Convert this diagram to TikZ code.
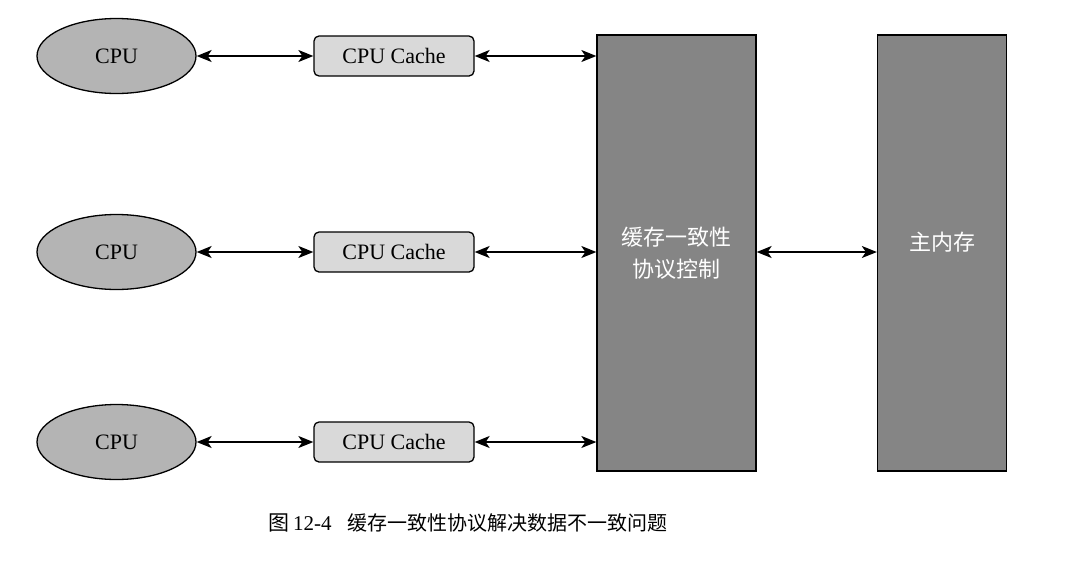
\documentclass[tikz,border=0pt]{standalone}
\usepackage{fontspec}
\setmainfont{Liberation Serif}
\newfontfamily\cjk{Noto Sans CJK SC}
\usetikzlibrary{arrows.meta,shapes.geometric}
\definecolor{cpufill}{HTML}{B4B4B4}
\definecolor{cachefill}{HTML}{D9D9D9}
\definecolor{bigfill}{HTML}{858585}
\tikzset{
  cpu/.style={ellipse,draw=black,line width=1.3pt,fill=cpufill,minimum width=159pt,minimum height=75pt,inner sep=0pt,font=\fontsize{22}{26}\selectfont},
  cache/.style={rectangle,rounded corners=5pt,draw=black,line width=1.3pt,fill=cachefill,minimum width=160pt,minimum height=40pt,inner sep=0pt,font=\fontsize{22}{26}\selectfont},
  big/.style={rectangle,draw=black,line width=1.3pt,fill=bigfill,inner sep=0pt,text=white,align=center,font=\cjk\fontsize{22}{32}\selectfont},
  link/.style={line width=1.3pt,{Stealth[length=15pt,width=12pt,inset=4pt]}-{Stealth[length=15pt,width=12pt,inset=4pt]}}
}
\begin{document}
\begin{tikzpicture}[x=1pt,y=-1pt]
\useasboundingbox (0,0) rectangle (1066,563);
\node[big,minimum width=159pt,minimum height=436pt] (coh) at (676.5,253) {缓存一致性\\协议控制};
\node[big,minimum width=129pt,minimum height=436pt] (mem) at (942,253) {};
\node[text=white,font=\cjk\fontsize{22}{26}\selectfont] (memt) at (942,242) {主内存};
\foreach \i/\y in {1/56,2/252,3/442}{
  \node[cpu] (cpu\i) at (116.5,\y) {CPU};
  \node[cache] (cache\i) at (394,\y) {CPU Cache};
  \coordinate (e\i) at (coh.west |- cache\i);
  \draw[link] (cpu\i.east) -- (cache\i.west);
  \draw[link] (cache\i.east) -- (e\i);
}
\draw[link] (coh.east |- 0,252) -- (mem.west |- 0,252);
\node[anchor=west,font=\fontsize{21}{24}\selectfont] (cap) at (265,523) {{\cjk 图}\,12-4\hspace{16pt}{\cjk\fontsize{20}{24}\selectfont 缓存一致性协议解决数据不一致问题}};
\end{tikzpicture}
\end{document}
